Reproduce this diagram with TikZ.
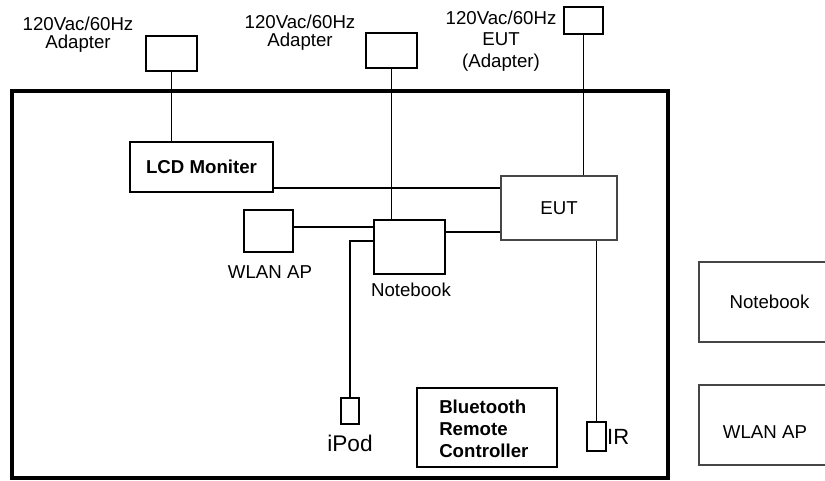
\documentclass[tikz,border=0pt]{standalone}
\usepackage{fontspec}
\setmainfont{Liberation Sans}
\definecolor{edgegray}{RGB}{70,70,70}
\usepackage{tikz}
\usetikzlibrary{positioning, calc}

\tikzset{
    unit/.style={draw, line width=1.4pt, inner sep=0pt, font=\fontsize{14}{17}\selectfont},
    shadebox/.style={unit, draw=edgegray, line width=1.8pt},
    txt/.style={inner sep=0pt, align=center, font=\fontsize{14}{13.5}\selectfont},
    wire/.style={line width=1.4pt}
}

\begin{document}
\begin{tikzpicture}[x=0.75pt, y=-0.75pt]
    \useasboundingbox (0, 0) rectangle (825, 480);
    \clip (0, 0) rectangle (825, 480);
    \draw[line width=3.2pt] (12, 91) rectangle (668, 478);
    % adapters on top
    \node[unit, minimum width=38.25pt, minimum height=26.25pt] (adpA) at (171.5, 53.5) {};
    \node[unit, minimum width=38.25pt, minimum height=26.25pt] (adpB) at (391.5, 50.5) {};
    \node[unit, minimum width=29.25pt, minimum height=20.25pt] (adpC) at (583.5, 20.5) {};
    \node[txt] (lblA) at (78, 34.5) {120Vac/60Hz\\Adapter};
    \node[txt] (lblB) at (300, 32.5) {120Vac/60Hz\\Adapter};
    \node[txt, font=\fontsize{14}{16}\selectfont] (lblC) at (501, 41) {120Vac/60Hz\\EUT\\(Adapter)};
    % units inside the frame
    \node[unit, minimum width=107.25pt, minimum height=37.5pt, font=\fontsize{14}{17}\selectfont\bfseries] (lcd) at (201.5, 167) {LCD Moniter};
    \node[shadebox, minimum width=87pt, minimum height=48pt] (eut) at (559, 208) {EUT};
    \node[unit, minimum width=36.75pt, minimum height=31.5pt] (wlan) at (268.5, 231) {};
    \node[txt] (wlanlbl) at (270, 272) {WLAN AP};
    \node[unit, minimum width=53.25pt, minimum height=40.5pt] (nb) at (409.5, 247) {};
    \node[txt] (nblbl) at (411, 290) {Notebook};
    \node[unit, minimum width=13.5pt, minimum height=19.5pt] (ipod) at (350, 411) {};
    \node[txt, font=\fontsize{17}{17}\selectfont] (ipodlbl) at (350, 443) {iPod};
    \node[unit, minimum width=105pt, minimum height=59.25pt] (bt) at (487, 427.5) {};
    \node[txt, align=left, font=\fontsize{14}{16.5}\selectfont\bfseries, anchor=west] (btlbl) at (439, 429) {Bluetooth\\Remote\\Controller};
    \node[unit, minimum width=14.25pt, minimum height=21.75pt] (ir) at (596.5, 436.5) {};
    \node[txt, font=\fontsize{16.5}{16.5}\selectfont, anchor=west] (irlbl) at (ir.east) {IR};
    % legend boxes on the right
    \node[shadebox, minimum width=105.75pt, minimum height=60pt] (nbkey) at (769.5, 302) {Notebook};
    \node[shadebox, minimum width=105.75pt, minimum height=60pt] (wlankey) at (769.5, 425) {};
    \node[txt] (wlankeylbl) at (765, 432) {WLAN AP};
    % cables
    \draw[wire] (adpA.south) -- (adpA.south |- lcd.north);
    \draw[wire] (adpB.south) -- (adpB.south |- nb.north);
    \draw[wire] (adpC.south) -- (adpC.south |- eut.north);
    \draw[wire] ([yshift=3.75pt]lcd.south east) -- ([yshift=3.75pt]lcd.south east -| eut.west);
    \draw[wire] ([yshift=3pt]wlan.east) -- ([yshift=3pt]wlan.east -| nb.west);
    \draw[wire] ([yshift=11.25pt]nb.east) -- ([yshift=11.25pt]nb.east -| eut.west);
    \draw[wire] ([yshift=4.5pt]nb.west) -| (ipod.north);
    \draw[wire] (ir.north) -- (ir.north |- eut.south);
\end{tikzpicture}
\end{document}
